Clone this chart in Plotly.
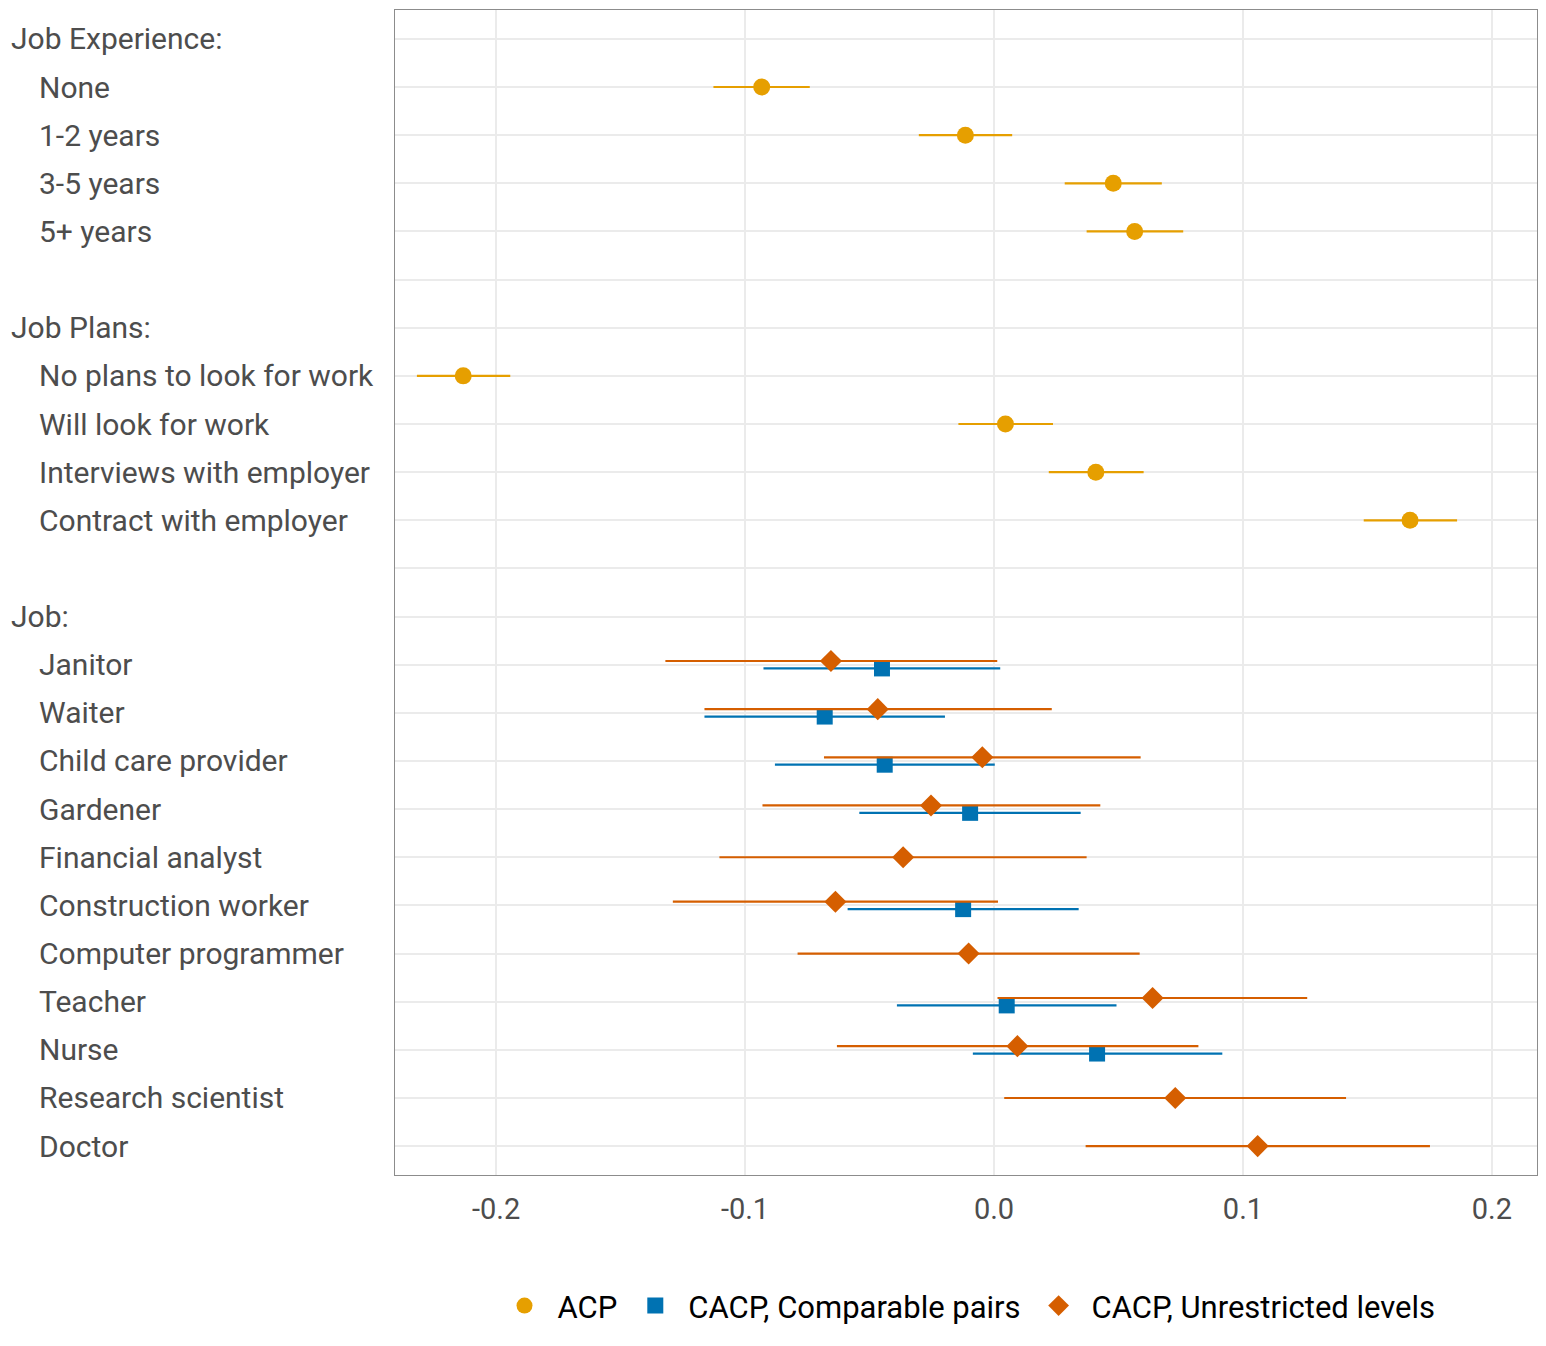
import plotly.graph_objects as go

# Row labels, top to bottom ("" = spacer row)
row_labels = [
    "Job Experience:", "None", "1-2 years", "3-5 years", "5+ years", "",
    "Job Plans:", "No plans to look for work", "Will look for work",
    "Interviews with employer", "Contract with employer", "",
    "Job:", "Janitor", "Waiter", "Child care provider", "Gardener",
    "Financial analyst", "Construction worker", "Computer programmer",
    "Teacher", "Nurse", "Research scientist", "Doctor",
]
header_rows = ["Job Experience:", "Job Plans:", "Job:"]

# ACP estimates (attribute levels of job experience and job plans)
acp_levels = ["None", "1-2 years", "3-5 years", "5+ years",
              "No plans to look for work", "Will look for work",
              "Interviews with employer", "Contract with employer"]
acp_est = [-0.0933, -0.0115, 0.0479, 0.0565, -0.2132, 0.0046, 0.0409, 0.1671]
acp_lo = [-0.1127, -0.0302, 0.0284, 0.0372, -0.2318, -0.0143, 0.0220, 0.1485]
acp_hi = [-0.0740, 0.0073, 0.0674, 0.0760, -0.1943, 0.0237, 0.0601, 0.1860]

# CACP estimates for the job attribute
job_levels = ["Janitor", "Waiter", "Child care provider", "Gardener",
              "Financial analyst", "Construction worker", "Computer programmer",
              "Teacher", "Nurse", "Research scientist", "Doctor"]
pairs_est = [-0.0450, -0.0680, -0.0439, -0.0096, None, -0.0124, None,
             0.0051, 0.0414, None, None]
pairs_lo = [-0.0926, -0.1163, -0.0880, -0.0541, None, -0.0588, None,
            -0.0390, -0.0085, None, None]
pairs_hi = [0.0025, -0.0197, 0.0003, 0.0348, None, 0.0340, None,
            0.0492, 0.0917, None, None]
unres_est = [-0.0655, -0.0467, -0.0047, -0.0253, -0.0365, -0.0637, -0.0102,
             0.0637, 0.0094, 0.0728, 0.1059]
unres_lo = [-0.1320, -0.1163, -0.0683, -0.0930, -0.1103, -0.1290, -0.0789,
            0.0014, -0.0631, 0.0041, 0.0368]
unres_hi = [0.0013, 0.0232, 0.0589, 0.0427, 0.0372, 0.0016, 0.0585,
            0.1258, 0.0821, 0.1414, 0.1751]

x_ticks = [-0.2, -0.1, 0.0, 0.1, 0.2]

colors = {"ACP": "#E69F00", "pairs": "#0072B2", "unres": "#D55E00"}
DODGE = 0.077  # vertical offset (in rows) when two estimates share a row

row_pos = {lab: i for i, lab in enumerate(row_labels) if lab}


def err(est, lo, hi):
    plus = [None if e is None else h - e for e, h in zip(est, hi)]
    minus = [None if e is None else e - l for e, l in zip(est, lo)]
    return plus, minus


fig = go.Figure()

# ACP
p, m = err(acp_est, acp_lo, acp_hi)
fig.add_trace(go.Scatter(
    x=acp_est, y=[row_pos[l] for l in acp_levels], mode="markers", name="ACP",
    marker=dict(symbol="circle", size=17, color=colors["ACP"]),
    error_x=dict(type="data", array=p, arrayminus=m, width=0, thickness=2.2,
                 color=colors["ACP"]),
))

# CACP series, dodged where both are present
both = [pe is not None and ue is not None for pe, ue in zip(pairs_est, unres_est)]
y_pairs = [row_pos[l] + (DODGE if b else 0) for l, b in zip(job_levels, both)]
y_unres = [row_pos[l] - (DODGE if b else 0) for l, b in zip(job_levels, both)]

p, m = err(pairs_est, pairs_lo, pairs_hi)
fig.add_trace(go.Scatter(
    x=pairs_est, y=y_pairs, mode="markers", name="CACP, Comparable pairs",
    marker=dict(symbol="square", size=16, color=colors["pairs"]),
    error_x=dict(type="data", array=p, arrayminus=m, width=0, thickness=2.2,
                 color=colors["pairs"]),
))

p, m = err(unres_est, unres_lo, unres_hi)
fig.add_trace(go.Scatter(
    x=unres_est, y=y_unres, mode="markers", name="CACP, Unrestricted levels",
    marker=dict(symbol="diamond", size=17, color=colors["unres"]),
    error_x=dict(type="data", array=p, arrayminus=m, width=0, thickness=2.2,
                 color=colors["unres"]),
))

# Left-aligned row labels
for i, lab in enumerate(row_labels):
    if not lab:
        continue
    fig.add_annotation(
        x=0, xref="paper", y=i, yref="y", text=lab, showarrow=False,
        xanchor="left", yanchor="middle",
        xshift=-386 if lab in header_rows else -358,
        font=dict(family="Roboto", size=30, color="#4d4d4d"),
    )

fig.update_xaxes(
    range=[-0.2406, 0.2181], tickvals=x_ticks,
    ticktext=[f"{v:.1f}" for v in x_ticks],
    showgrid=True, gridcolor="#ebebeb", gridwidth=2, zeroline=False,
    showline=True, mirror=True, linecolor="#8c8c8c", linewidth=1.3,
    ticks="", ticklabelstandoff=8,
    tickfont=dict(family="Roboto", size=29, color="#4d4d4d"),
)
fig.update_yaxes(
    range=[len(row_labels) - 0.4, -0.6], tickvals=list(range(len(row_labels))),
    showticklabels=False, showgrid=True, gridcolor="#ebebeb", gridwidth=2,
    zeroline=False, showline=True, mirror=True, linecolor="#8c8c8c",
    linewidth=1.3, ticks="",
)

fig.update_layout(
    width=1530, height=1330,
    margin=dict(l=387, r=1, t=2, b=163),
    plot_bgcolor="white", paper_bgcolor="white",
    font=dict(family="Roboto", color="black"),
    showlegend=True,
    legend=dict(orientation="h", x=0.5, xanchor="center", y=-0.1124,
                yanchor="middle", font=dict(family="Roboto", size=31, color="black"),
                itemwidth=56, traceorder="normal"),
)

fig.write_html("out.html")
